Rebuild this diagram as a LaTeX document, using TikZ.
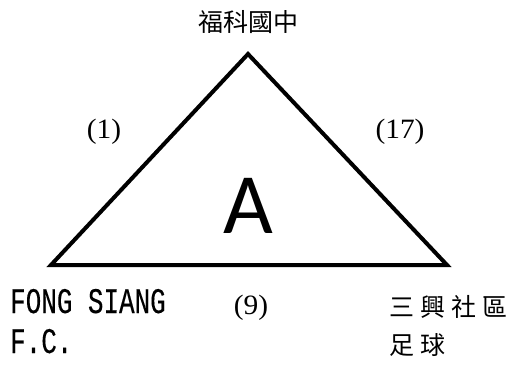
\documentclass[tikz,border=0pt]{standalone}
\usepackage{fontspec}
\setmainfont{Liberation Serif}
\newfontfamily\cjkfont{Noto Sans CJK TC}
\newfontfamily\monofont[FakeBold=0.3]{Liberation Mono}
\newfontfamily\calfont{Carlito}
\usepackage{graphicx}
\begin{document}
\begin{tikzpicture}[x=1pt,y=-1pt,
  cjk/.style={font=\cjkfont\fontsize{25}{28}\selectfont, inner sep=0pt, anchor=west},
  num/.style={font=\fontsize{28}{30}\selectfont, inner sep=0pt},
  latin/.style={font=\monofont\fontsize{36}{40}\selectfont, inner sep=0pt, anchor=west},
  edge/.style={line width=4pt, line join=miter}]
\useasboundingbox (0,0) rectangle (514,365);
\coordinate (top) at (248,54);
\coordinate (left) at (51,265);
\coordinate (right) at (447,265);
\draw[edge] (top) -- (left) -- (right) -- cycle;
\node[cjk] (t) at (198,22) {福科國中};
\node[num] (e1) at (104,132) {\scalebox{1.05}[1]{(1)}};
\node[num] (e2) at (400,132) {\scalebox{1.05}[1]{(17)}};
\node[num] (e3) at (251,308) {\scalebox{1.05}[1]{(9)}};
\node[font=\calfont\fontsize{86}{90}\selectfont, inner sep=0pt, anchor=base] (a) at (248.5,233) {A};
\node[latin, anchor=base west] (l1) at (10,313) {\scalebox{0.72}[1]{FONG SIANG}};
\node[latin, anchor=base west] (l2) at (10,353) {\scalebox{0.72}[1]{F.C.}};
\node[cjk] (r1) at (389,307) {三\kern6pt 興\kern6pt 社\kern6pt 區};
\node[cjk] (r2) at (389,345) {足\kern6pt 球};
\end{tikzpicture}
\end{document}
